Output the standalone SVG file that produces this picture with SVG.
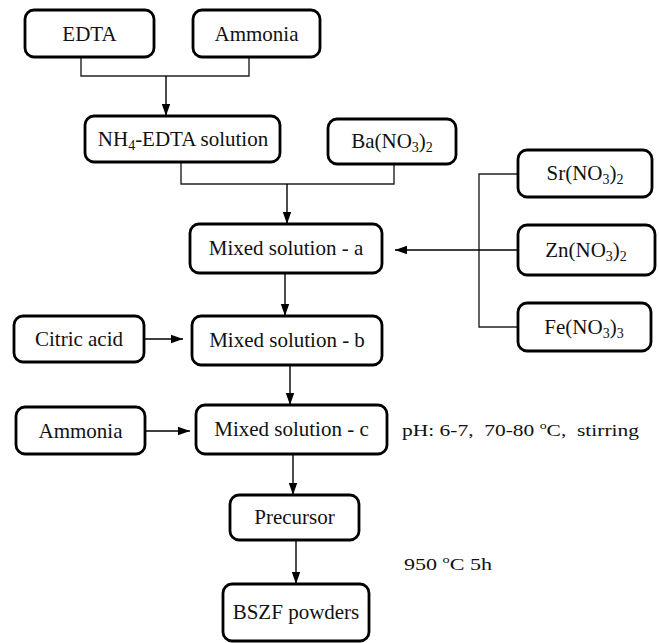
<svg xmlns="http://www.w3.org/2000/svg" width="659" height="643" viewBox="0 0 659 643">
<defs>
<marker id="ah" markerWidth="12" markerHeight="10" viewBox="0 0 12 10" refX="12" refY="5" orient="auto" markerUnits="userSpaceOnUse">
<path d="M0,0.8 L12,5 L0,9.2 Z" fill="#000"/>
</marker>
<style>
.box{fill:#fff;stroke:#000;stroke-width:2.8}
.t{font-family:"Liberation Serif","Times New Roman",serif;font-size:21px;fill:#111;text-anchor:middle}
.n{font-family:"Liberation Serif","Times New Roman",serif;font-size:17px;fill:#111}
.c{fill:none;stroke:#222;stroke-width:1.4}
.a{fill:none;stroke:#000;stroke-width:1.4;marker-end:url(#ah)}
</style>
</defs>
<rect width="659" height="643" fill="#fff"/>
<g id="connectors">
<path class="c" d="M81,57 V76 H249 V57"/>
<path class="a" d="M166,76 V116"/>
<path class="c" d="M181,162 V184 H394 V164"/>
<path class="a" d="M287,184 V224"/>
<path class="c" d="M518,174 H479 V327 H518"/>
<path class="a" d="M518,250 H395"/>
<path class="a" d="M285,273 V316"/>
<path class="a" d="M144,339 H183"/>
<path class="a" d="M290,365 V405"/>
<path class="a" d="M145,431 H190"/>
<path class="a" d="M293,454 V495"/>
<path class="a" d="M296,540 V584"/>
</g>
<g id="edta"><rect class="box" x="25" y="10" width="129" height="47" rx="9"/><text class="t" x="89.5" y="41">EDTA</text></g>
<g id="ammonia1"><rect class="box" x="193" y="10" width="127" height="47" rx="9"/><text class="t" x="256.5" y="41">Ammonia</text></g>
<g id="nh4edta"><rect class="box" x="85" y="116" width="195" height="46" rx="9"/><text class="t" x="183" y="146">NH<tspan font-size="14" dy="4">4</tspan><tspan dy="-4">-EDTA solution</tspan></text></g>
<g id="ba"><rect class="box" x="328" y="119" width="128" height="45" rx="9"/><text class="t" x="392" y="148">Ba(NO<tspan font-size="14" dy="4">3</tspan><tspan dy="-4">)</tspan><tspan font-size="14" dy="4">2</tspan></text></g>
<g id="mixa"><rect class="box" x="190" y="224" width="192" height="49" rx="9"/><text class="t" x="286" y="255">Mixed solution - a</text></g>
<g id="sr"><rect class="box" x="518" y="150" width="134" height="47" rx="9"/><text class="t" x="585" y="180">Sr(NO<tspan font-size="14" dy="4">3</tspan><tspan dy="-4">)</tspan><tspan font-size="14" dy="4">2</tspan></text></g>
<g id="zn"><rect class="box" x="518" y="225" width="137" height="50" rx="9"/><text class="t" x="586" y="257">Zn(NO<tspan font-size="14" dy="4">3</tspan><tspan dy="-4">)</tspan><tspan font-size="14" dy="4">2</tspan></text></g>
<g id="fe"><rect class="box" x="518" y="303" width="133" height="48" rx="9"/><text class="t" x="584" y="334">Fe(NO<tspan font-size="14" dy="4">3</tspan><tspan dy="-4">)</tspan><tspan font-size="14" dy="4">3</tspan></text></g>
<g id="citric"><rect class="box" x="14" y="316" width="130" height="46" rx="9"/><text class="t" x="79" y="346">Citric acid</text></g>
<g id="mixb"><rect class="box" x="192" y="316" width="190" height="49" rx="9"/><text class="t" x="287" y="347">Mixed solution - b</text></g>
<g id="ammonia2"><rect class="box" x="16" y="407" width="129" height="47" rx="9"/><text class="t" x="80.5" y="438">Ammonia</text></g>
<g id="mixc"><rect class="box" x="196" y="405" width="191" height="49" rx="9"/><text class="t" x="291.5" y="436">Mixed solution - c</text></g>
<g id="precursor"><rect class="box" x="230" y="495" width="129" height="45" rx="9"/><text class="t" x="294.5" y="524">Precursor</text></g>
<g id="bszf"><rect class="box" x="223" y="584" width="146" height="57" rx="9"/><text class="t" x="296" y="619">BSZF powders</text></g>
<g id="notes">
<text class="n" x="402" y="436" textLength="237" lengthAdjust="spacingAndGlyphs">pH: 6-7,&#160; 70-80 <tspan font-size="11" dy="-7">o</tspan><tspan dy="7">C,&#160; stirring</tspan></text>
<text class="n" x="404" y="570" textLength="88" lengthAdjust="spacingAndGlyphs">950 <tspan font-size="11" dy="-7">o</tspan><tspan dy="7">C 5h</tspan></text>
</g>
</svg>
